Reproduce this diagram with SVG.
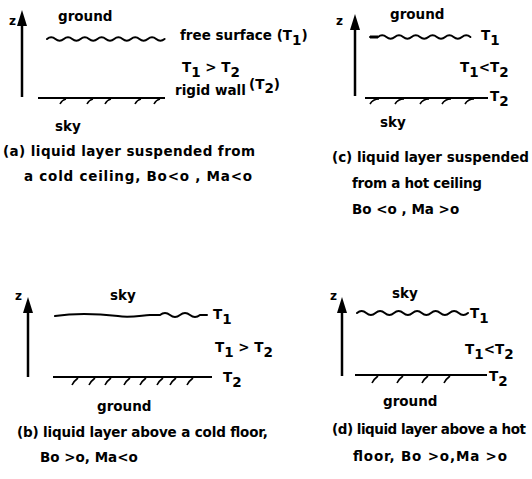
<svg xmlns="http://www.w3.org/2000/svg" width="532" height="479" viewBox="0 0 532 479">
<style>
text{font-family:"DejaVu Sans","Liberation Sans",sans-serif;font-weight:bold;fill:#000}
.lb{font-size:13.5px}
.cap{font-size:13.5px}
.z{font-size:12px}
.w{fill:none;stroke:#000;stroke-width:2;stroke-linecap:round}
.wall{stroke:#000;stroke-width:2}
.h{fill:none;stroke:#000;stroke-width:1.6}
.ax{stroke:#000;stroke-width:2.5}
</style>
<defs>
<marker id="ah" viewBox="0 0 16 10" refX="6" refY="5" markerWidth="16" markerHeight="10" markerUnits="userSpaceOnUse" orient="auto">
<path d="M0,0 L16,5 L0,10 z" fill="#000"/>
</marker>
</defs>
<g id="connectors">
<line class="ax" x1="22" y1="97" x2="22" y2="20" marker-end="url(#ah)"/>
<line class="ax" x1="355" y1="96" x2="355" y2="24" marker-end="url(#ah)"/>
<line class="ax" x1="28" y1="377" x2="28" y2="307" marker-end="url(#ah)"/>
<line class="ax" x1="342" y1="376" x2="342" y2="307" marker-end="url(#ah)"/>
</g>
<g id="panel-a">
<text class="z" x="9" y="25">z</text>
<text class="lb" x="58" y="21">ground</text>
<path class="w" d="M47,39 q4.2,-3.5 8.4,0 t8.4,0 t8.4,0 t8.4,0 t8.4,0 t8.4,0 t8.4,0 t8.4,0 t8.4,0 t8.4,0 t8.4,0 t8.4,0 t8.4,0 t8.4,0"/>
<text class="lb" x="180" y="40">free surface (T<tspan dy="5">1</tspan><tspan dy="-5">)</tspan></text>
<text class="lb" x="182" y="72">T<tspan dy="5">1</tspan><tspan dy="-5"> &gt; T</tspan><tspan dy="5">2</tspan></text>
<text class="lb" x="175" y="95">rigid wall</text>
<text class="lb" x="249" y="89">(T<tspan dy="4">2</tspan><tspan dy="-4">)</tspan></text>
<line class="wall" x1="38" y1="98" x2="165" y2="98"/>
<path class="h" d="M60,104 q2,-4 6,-5 M87,104 q2,-4 6,-5 M105,104 q2,-4 6,-5 M135,104 q2,-4 6,-5 M154,104 q2,-4 6,-5"/>
<text class="lb" x="55" y="131">sky</text>
<text class="cap" x="3" y="156" textLength="252" lengthAdjust="spacing">(a) liquid layer suspended from</text>
<text class="cap" x="24" y="181" textLength="228" lengthAdjust="spacing">a cold ceiling, Bo&lt;o , Ma&lt;o</text>
</g>
<g id="panel-c">
<text class="z" x="336" y="25">z</text>
<text class="lb" x="390" y="19">ground</text>
<path class="w" d="M370,37 L378,37 q4.2,-3.5 8.4,0 t8.4,0 t8.4,0 t8.4,0 t8.4,0 t8.4,0 t8.4,0 t8.4,0 t8.4,0 t8.4,0 t8.4,0"/>
<path d="M370,35.5 L378,35.5 L378,38.5 L370,38.5 z" fill="#000"/>
<text class="lb" x="481" y="40">T<tspan dy="5">1</tspan></text>
<text class="lb" x="460" y="72">T<tspan dy="5">1</tspan><tspan dy="-5">&lt;T</tspan><tspan dy="5">2</tspan></text>
<line class="wall" x1="365" y1="98" x2="488" y2="98"/>
<path class="h" d="M370,104 q3,-5 9,-5 M395,104 q3,-5 9,-5 M420,104 q3,-5 9,-5 M442,104 q3,-5 9,-5 M465,104 q3,-5 9,-5"/>
<text class="lb" x="490" y="101">T<tspan dy="5">2</tspan></text>
<text class="lb" x="380" y="127">sky</text>
<text class="cap" x="332" y="162" textLength="197" lengthAdjust="spacing">(c) liquid layer suspended</text>
<text class="cap" x="352" y="188" textLength="130" lengthAdjust="spacing">from a hot ceiling</text>
<text class="cap" x="352" y="214">Bo &lt;o , Ma &gt;o</text>
</g>
<g id="panel-b">
<text class="z" x="15" y="300">z</text>
<text class="lb" x="110" y="300">sky</text>
<path class="w" d="M55,316 C75,313 100,314 118,316 C128,318 138,316 150,315 L160,315 q5,-4 10,0 t10,0 t10,0 t10,0 L207,315"/>
<text class="lb" x="213" y="319">T<tspan dy="5">1</tspan></text>
<text class="lb" x="215" y="352">T<tspan dy="5">1</tspan><tspan dy="-5"> &gt; T</tspan><tspan dy="5">2</tspan></text>
<line class="wall" x1="53" y1="377" x2="212" y2="377"/>
<path class="h" d="M72,385 q2,-4 6,-7 M89,385 q2,-4 6,-7 M105,385 q2,-4 6,-7 M124,385 q2,-4 6,-7 M140,385 q2,-4 6,-7 M157,385 q2,-4 6,-7 M170,385 q2,-4 6,-7 M187,385 q2,-4 6,-7"/>
<text class="lb" x="223" y="382">T<tspan dy="5">2</tspan></text>
<text class="lb" x="97" y="411">ground</text>
<text class="cap" x="17" y="437" textLength="251" lengthAdjust="spacing">(b) liquid layer above a cold floor,</text>
<text class="cap" x="40" y="462">Bo &gt;o, Ma&lt;o</text>
</g>
<g id="panel-d">
<text class="z" x="330" y="300">z</text>
<text class="lb" x="392" y="298">sky</text>
<path class="w" d="M357,313 q4.6,-4 9.25,0 t9.25,0 t9.25,0 t9.25,0 t9.25,0 t9.25,0 t9.25,0 t9.25,0 t9.25,0 t9.25,0 t9.25,0 t9.25,0"/>
<text class="lb" x="470" y="318">T<tspan dy="5">1</tspan></text>
<text class="lb" x="465" y="354">T<tspan dy="5">1</tspan><tspan dy="-5">&lt;T</tspan><tspan dy="5">2</tspan></text>
<line class="wall" x1="355" y1="375" x2="487" y2="375"/>
<path class="h" d="M372,383 q2,-4 6,-7 M397,383 q2,-4 6,-7 M422,383 q2,-4 6,-7 M444,383 q2,-4 6,-7"/>
<text class="lb" x="489" y="381">T<tspan dy="5">2</tspan></text>
<text class="lb" x="383" y="406">ground</text>
<text class="cap" x="332" y="434" textLength="194" lengthAdjust="spacing">(d) liquid layer above a hot</text>
<text class="cap" x="353" y="461" textLength="154" lengthAdjust="spacing">floor, Bo &gt;o,Ma &gt;o</text>
</g>
</svg>
